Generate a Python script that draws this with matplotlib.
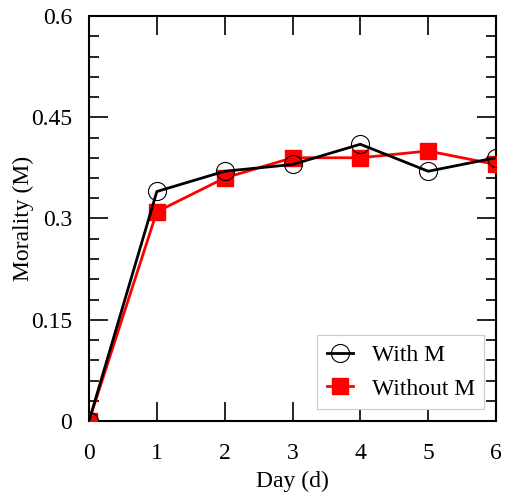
import matplotlib
matplotlib.use("Agg")
import matplotlib.pyplot as plt
from matplotlib.ticker import MultipleLocator

days = [0, 1, 2, 3, 4, 5, 6]
with_m = [0, 0.34, 0.37, 0.38, 0.41, 0.37, 0.39]
without_m = [0, 0.31, 0.36, 0.39, 0.39, 0.40, 0.38]
yticks = [0, 0.15, 0.3, 0.45, 0.6]
ytick_labels = ["0", "0.15", "0.3", "0.45", "0.6"]

plt.rcParams['font.family'] = ['Liberation Serif', 'DejaVu Serif']
plt.rcParams['font.size'] = 17

fig = plt.figure(figsize=(5.10, 4.94), dpi=100)
ax = fig.add_axes([89/510, 1-421/494, (496-89)/510, (421-16)/494])

ax.plot(days, without_m, color='red', lw=2, marker='s', ms=11,
        mfc='red', mec='red', label='Without M', zorder=3)
ax.plot(days, with_m, color='black', lw=2, marker='o', ms=13,
        mfc='none', mec='black', mew=0.8, label='With M', zorder=4)

ax.set_xlim(0, 6)
ax.set_ylim(0, 0.6)
ax.set_xticks(days)
ax.set_yticks(yticks)
ax.set_yticklabels(ytick_labels)
ax.yaxis.set_minor_locator(MultipleLocator(0.03))
ax.tick_params(which='both', direction='in', top=True, right=True, width=1.2)
ax.tick_params(axis='x', which='minor', bottom=False, top=False)
ax.tick_params(which='major', length=14, labelsize=17)
ax.tick_params(axis='x', which='major', pad=16)
ax.tick_params(axis='y', which='major', pad=12)
ax.tick_params(which='minor', length=7)
for s in ax.spines.values():
    s.set_linewidth(1.5)

ax.set_xlabel('Day (d)', fontsize=17, labelpad=5)
ax.set_ylabel('Morality (M)', fontsize=17, labelpad=-2)

h, l = ax.get_legend_handles_labels()
leg = ax.legend(h[::-1], l[::-1], loc='lower right', fontsize=17,
                fancybox=False, edgecolor='#cccccc', framealpha=1,
                handlelength=1.1, borderaxespad=0.5, handletextpad=0.8,
                labelspacing=0.5, borderpad=0.4)
leg.get_frame().set_linewidth(0.8)

fig.savefig('out.png', dpi=100)
